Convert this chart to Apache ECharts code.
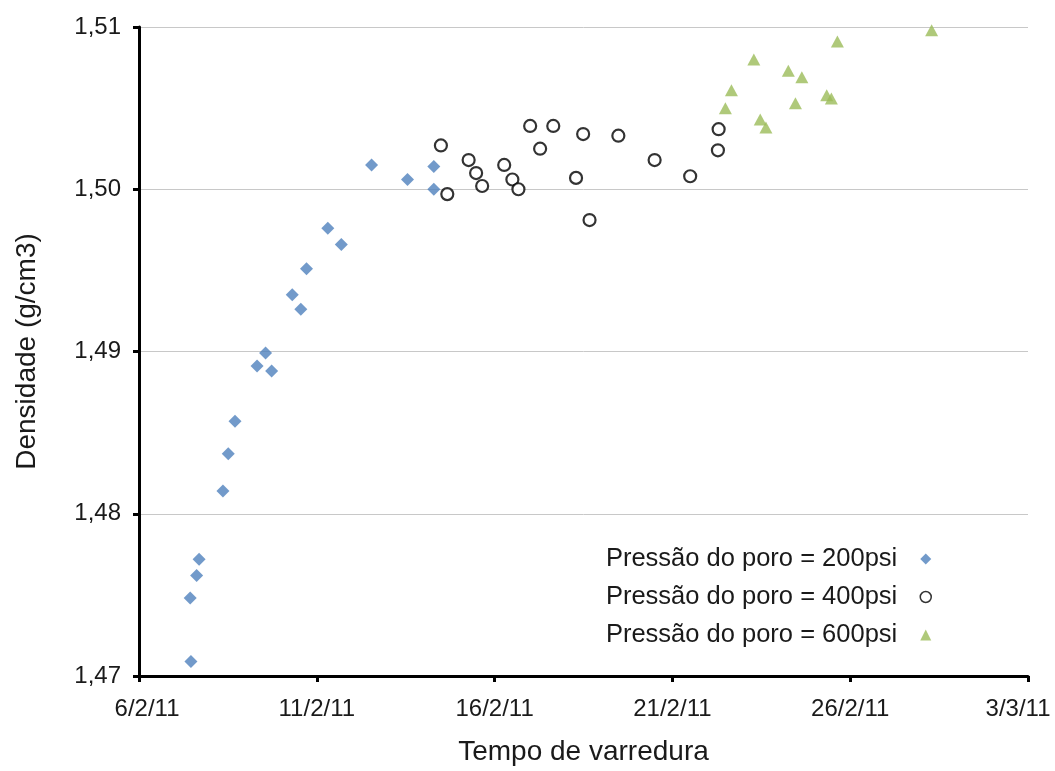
<!DOCTYPE html>
<html>
<head>
<meta charset="utf-8">
<script src="https://cdn.jsdelivr.net/npm/echarts@6/dist/echarts.min.js"></script>
<style>
html,body{margin:0;padding:0;background:#fff;overflow:hidden;width:1055px;height:771px;}
#chart{width:1055px;height:771px;overflow:hidden;}
</style>
</head>
<body>
<div id="chart"></div>
<script>
// x values: days elapsed since 6/2/2011 (scan time)
const startY = 2011, startM = 1, startD = 6;
const xTickDays = [0, 5, 10, 15, 20, 25];
const seriesNames = ['Pressão do poro = 200psi', 'Pressão do poro = 400psi', 'Pressão do poro = 600psi'];

const days200 = [1.46,1.44,1.62,1.69,2.36,2.51,2.70,3.32,3.56,3.73,4.31,4.55,4.71,5.31,5.69,6.54,7.55,8.29,8.29];
const dens200 = [1.4709,1.4748,1.4762,1.4772,1.4814,1.4837,1.4857,1.4891,1.4899,1.4888,1.4935,1.4926,1.4951,1.4976,1.4966,1.5015,1.5006,1.5014,1.5000];

const days400 = [8.49,8.67,9.27,9.48,9.65,10.27,10.50,10.67,11.00,11.28,11.65,12.29,12.49,12.67,13.48,14.50,15.50,16.28,16.30];
const dens400 = [1.5027,1.4997,1.5018,1.5010,1.5002,1.5015,1.5006,1.5000,1.5039,1.5025,1.5039,1.5007,1.5034,1.4981,1.5033,1.5018,1.5008,1.5024,1.5037];

const days600 = [16.49,16.66,17.29,17.47,17.63,18.26,18.46,18.64,19.34,19.47,19.64,22.29];
const dens600 = [1.5050,1.5061,1.5080,1.5043,1.5038,1.5073,1.5053,1.5069,1.5058,1.5056,1.5091,1.5098];

function pairs(xs, ys){ return xs.map((x,i)=>[x, ys[i]]); }
function fmtDate(v){
  const d = new Date(startY, startM, startD + Math.round(v));
  const s = d.getDate() + '/' + (d.getMonth()+1) + '/' + String(d.getFullYear()).slice(2);
  if (v === xTickDays[0]) return '{first|' + s + '}';
  if (v === xTickDays[xTickDays.length-1]) return '{last|' + s + '}';
  return s;
}

const font = '"Liberation Sans", Arial, sans-serif';
const chart = echarts.init(document.getElementById('chart'), null, {renderer:'canvas', width:1055, height:771});
chart.setOption({
  backgroundColor:'#ffffff',
  animation:false,
  textStyle:{fontFamily:font},
  grid:{left:139, right:27, top:27, bottom:93, containLabel:false},
  xAxis:{
    type:'value', min:xTickDays[0], max:xTickDays[xTickDays.length-1], interval:5,
    name:'Tempo de varredura', nameLocation:'middle', nameGap:62,
    nameTextStyle:{fontSize:28, color:'#1a1a1a', fontFamily:font},
    axisLine:{show:true, onZero:false, lineStyle:{color:'#000', width:3}},
    axisTick:{show:true, inside:false, length:6, lineStyle:{color:'#000', width:3}},
    axisLabel:{formatter:fmtDate, fontSize:24, color:'#1a1a1a', margin:21, fontFamily:font,
      rich:{
        first:{fontSize:24, color:'#1a1a1a', fontFamily:font, padding:[0,0,0,16]},
        last:{fontSize:24, color:'#1a1a1a', fontFamily:font, padding:[0,20,0,0]}
      }},
    splitLine:{show:false}
  },
  yAxis:{
    type:'value', min:1.47, max:1.51, interval:0.01,
    name:'Densidade (g/cm3)', nameLocation:'middle', nameGap:98, nameRotate:90,
    nameTextStyle:{fontSize:28, color:'#1a1a1a', fontFamily:font},
    axisLine:{show:true, lineStyle:{color:'#000', width:3}},
    axisTick:{show:true, inside:false, length:6, lineStyle:{color:'#000', width:3}},
    axisLabel:{formatter:v=>v.toFixed(2).replace('.',','), fontSize:24, color:'#1a1a1a', margin:18, fontFamily:font},
    splitLine:{show:true, lineStyle:{color:'#c8c8c8', width:1}}
  },
  legend:{
    orient:'vertical', align:'right', right:118, top:539,
    itemWidth:11, itemHeight:11, itemGap:8,
    textStyle:{fontSize:25.5, color:'#1a1a1a', lineHeight:30, fontFamily:font, padding:[0,18,0,0]},
    data:[
      {name:seriesNames[0], icon:'diamond', itemStyle:{color:'#4f81bd'}},
      {name:seriesNames[1], icon:'circle', itemStyle:{color:'#fff', borderColor:'#000', borderWidth:1.5}},
      {name:seriesNames[2], icon:'triangle', itemStyle:{color:'#9bbb59'}}
    ]
  },
  series:[
    {name:seriesNames[0], type:'scatter', symbol:'diamond', symbolSize:[13,13],
     itemStyle:{color:'#4f81bd'}, data:pairs(days200, dens200)},
    {name:seriesNames[1], type:'scatter', symbol:'circle', symbolSize:12,
     itemStyle:{color:'#ffffff', borderColor:'#000', borderWidth:2.2}, data:pairs(days400, dens400)},
    {name:seriesNames[2], type:'scatter', symbol:'triangle', symbolSize:[13,12],
     itemStyle:{color:'#9bbb59'}, data:pairs(days600, dens600)}
  ]
});
</script>
</body>
</html>
